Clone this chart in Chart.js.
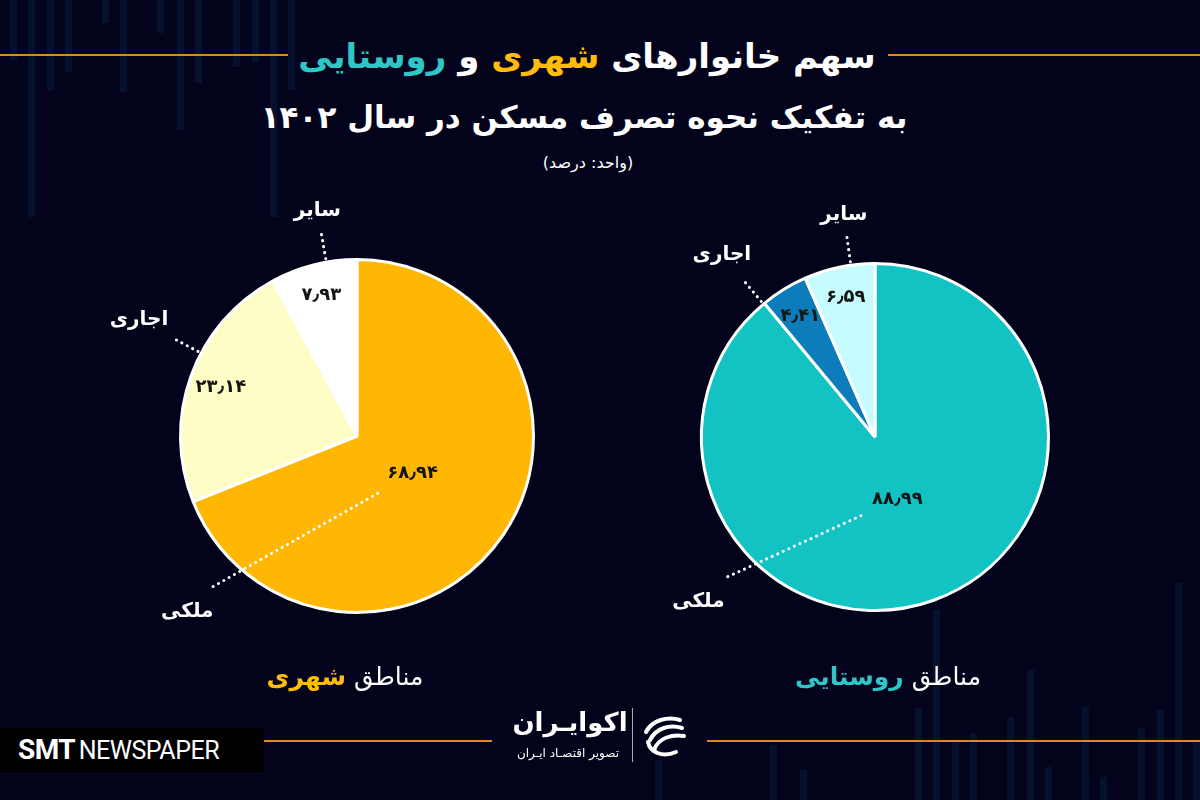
<!DOCTYPE html>
<html lang="fa">
<head>
<meta charset="utf-8">
<title>سهم خانوارهای شهری و روستایی</title>
<script src="https://cdn.jsdelivr.net/npm/chart.js@4.4.1/dist/chart.umd.min.js"></script>
<style>
  body { margin: 0; background: #03031c; }
  #page {
    position: relative; width: 1200px; height: 800px; overflow: hidden;
    background: #03031c; color: #fff; font-family: "DejaVu Sans", sans-serif;
  }
  .bar { position: absolute; width: 7px; background: #0a2444; opacity: 0.45; }
  .rule { position: absolute; height: 2px; background: #e0871e; }
  .txt { position: absolute; white-space: nowrap; transform: translate(-50%, -50%); }
  .yellow { color: #ffbd0a; }
  .teal { color: #2ec6c6; }
  canvas { position: absolute; }
  #smt {
    position: absolute; left: 0; top: 728px; width: 264px; height: 44px; background: #000;
    font-family: Roboto, sans-serif; font-weight: bold; color: #fff; line-height: 44px;
    padding-left: 18px; box-sizing: border-box; letter-spacing: -0.5px;
  }
</style>
</head>
<body>
<div id="page">
  <div id="deco"></div>

  <div class="rule" style="left:0; top:54px; width:288px;"></div>
  <div class="rule" style="left:888px; top:54px; width:312px;"></div>
  <div class="rule" style="left:0; top:740px; width:492px;"></div>
  <div class="rule" style="left:707px; top:740px; width:493px;"></div>

  <div class="txt" dir="rtl" style="left:587px; top:56px; font-size:34px; font-weight:bold;">
    سهم خانوارهای <span class="yellow">شهری</span> و <span class="teal">روستایی</span>
  </div>
  <div class="txt" dir="rtl" style="left:584px; top:117px; font-size:31px; font-weight:bold;">
    به تفکیک نحوه تصرف مسکن در سال ۱۴۰۲
  </div>
  <div class="txt" dir="rtl" style="left:588px; top:162px; font-size:16px;">(واحد: درصد)</div>

  <canvas id="urbanPie" width="560" height="560" style="left:77px; top:156px;"></canvas>
  <canvas id="ruralPie" width="560" height="560" style="left:595px; top:157px;"></canvas>

  <div class="txt" dir="rtl" style="left:345px; top:676px; font-size:25px;">
    مناطق <span class="yellow" style="font-weight:bold;">شهری</span>
  </div>
  <div class="txt" dir="rtl" style="left:888px; top:676px; font-size:25px;">
    مناطق <span class="teal" style="font-weight:bold;">روستایی</span>
  </div>

  <!-- لوگو -->
  <div class="txt" dir="rtl" style="left:570px; top:722px; font-size:26px; font-weight:bold;">اکوایـران</div>
  <div class="txt" dir="rtl" style="left:568px; top:753px; font-size:12px;">تصویر اقتصـاد ایـران</div>
  <div style="position:absolute; left:632px; top:708px; width:1px; height:54px; background:#aaa;"></div>
  <svg style="position:absolute; left:640px; top:712px;" width="48" height="48" viewBox="0 0 48 48">
    <g fill="none" stroke="#fff" stroke-width="4" stroke-linecap="round">
      <path d="M40 8 C28 4 12 8 6 20"/>
      <path d="M42 16 C30 12 16 16 10 28"/>
      <path d="M44 24 C32 22 18 26 14 38"/>
      <path d="M8 30 C10 40 22 46 36 40"/>
    </g>
  </svg>

  <div id="smt"><span style="font-size:28px;">SMT</span> <span style="font-size:25px; font-weight:normal;">NEWSPAPER</span></div>
</div>

<script>
// دسته‌ها و مقادیر (درصد)
const categories = ['ملکی', 'اجاری', 'سایر'];
const urbanValues = [68.94, 23.14, 7.93];
const ruralValues = [88.99, 4.41, 6.59];

const urbanColors = ['#ffb703', '#fffdc6', '#ffffff'];
const ruralColors = ['#13c3c3', '#0c7dba', '#c6fbff'];

// زاویه برچسب‌های بیرونی (درجه از بالا، ساعتگرد)
const urbanCalloutAngles = [224, 298, 350];
const ruralCalloutAngles = [227, 320, 352];

// میله‌های تزئینی پس‌زمینه
const decoTop = [[10, 60], [28, 217], [47, 90], [65, 72], [102, 23], [120, 92], [157, 33], [177, 130], [195, 83], [233, 67], [252, 62], [270, 217], [288, 90]];
const decoBottom = [[915, 708], [933, 610], [952, 740], [970, 733], [1007, 717], [1027, 670], [1045, 767], [1082, 707], [1100, 777], [1138, 728], [1157, 710], [1175, 583], [1193, 740], [655, 760], [770, 745], [800, 770]];

const deco = document.getElementById('deco');
decoTop.forEach(([x, h]) => {
    const d = document.createElement('div');
    d.className = 'bar';
    d.style.left = x + 'px'; d.style.top = '0px'; d.style.height = h + 'px';
    deco.appendChild(d);
});
decoBottom.forEach(([x, t]) => {
    const d = document.createElement('div');
    d.className = 'bar';
    d.style.left = x + 'px'; d.style.top = t + 'px'; d.style.height = (800 - t) + 'px';
    deco.appendChild(d);
});

// عدد به فارسی
function toFa(v) {
    return String(v).replace('.', '٫').replace(/\d/g, d => '۰۱۲۳۴۵۶۷۸۹'[d]);
}

// برچسب مقدار داخل برش و برچسب دسته با خط نقطه‌چین
const calloutPlugin = {
    id: 'callouts',
    afterDatasetsDraw(chart, args, opts) {
        const ctx = chart.ctx;
        const meta = chart.getDatasetMeta(0);
        const values = chart.data.datasets[0].data;
        const total = values.reduce((a, b) => a + b, 0);

        meta.data.forEach((arc, i) => {
            const p = arc.getProps(['x', 'y', 'startAngle', 'endAngle', 'outerRadius']);
            const mid = (p.startAngle + p.endAngle) / 2;
            const big = values[i] / total > 0.5;
            const r = p.outerRadius;

            // مقدار
            const vr = r * (big ? 0.38 : 0.82);
            const vx = p.x + Math.cos(mid) * vr;
            const vy = p.y + Math.sin(mid) * vr;
            ctx.save();
            ctx.font = 'bold 18px "DejaVu Sans"';
            ctx.fillStyle = '#151515';
            ctx.textAlign = 'center';
            ctx.textBaseline = 'middle';
            ctx.fillText(toFa(values[i]), vx, vy);

            // خط راهنما
            const a = (opts.angles[i] - 90) * Math.PI / 180;
            const ca = Math.cos(a), sa = Math.sin(a);
            const ex = p.x + ca * r * (big ? 1.2 : 1.18);
            const ey = p.y + sa * r * (big ? 1.2 : 1.18);
            let sx, sy;
            if (big) {
                const dx = ex - vx, dy = ey - vy, len = Math.hypot(dx, dy);
                sx = vx + dx / len * 40; sy = vy + dy / len * 40;
            } else {
                sx = p.x + ca * r * 1.02; sy = p.y + sa * r * 1.02;
            }
            ctx.strokeStyle = '#fff';
            ctx.lineWidth = 3;
            ctx.lineCap = 'round';
            ctx.setLineDash([0.1, 6]);
            ctx.beginPath();
            ctx.moveTo(sx, sy);
            ctx.lineTo(ex, ey);
            ctx.stroke();

            // نام دسته
            ctx.font = 'bold 20px "DejaVu Sans"';
            ctx.fillStyle = '#fff';
            ctx.direction = 'rtl';
            const w = ctx.measureText(chart.data.labels[i]).width;
            const d = 10 + (w / 2) * Math.abs(ca) + 6 * Math.abs(sa);
            ctx.fillText(chart.data.labels[i], ex + ca * d, ey + sa * d);
            ctx.restore();
        });
    }
};

function makePie(id, values, colors, angles, pad) {
    const ctx = document.getElementById(id).getContext('2d');
    return new Chart(ctx, {
        type: 'pie',
        data: {
            labels: categories,
            datasets: [{
                data: values,
                backgroundColor: colors,
                borderColor: '#ffffff',
                borderWidth: 3,
                hoverOffset: 0,
                offset: 0
            }]
        },
        options: {
            responsive: false,
            animation: false,
            events: [],
            layout: { padding: pad },
            plugins: {
                legend: { display: false },
                tooltip: { enabled: false },
                callouts: { angles: angles }
            }
        },
        plugins: [calloutPlugin]
    });
}

makePie('urbanPie', urbanValues, urbanColors, urbanCalloutAngles, 102);
makePie('ruralPie', ruralValues, ruralColors, ruralCalloutAngles, 105);
</script>
</body>
</html>
